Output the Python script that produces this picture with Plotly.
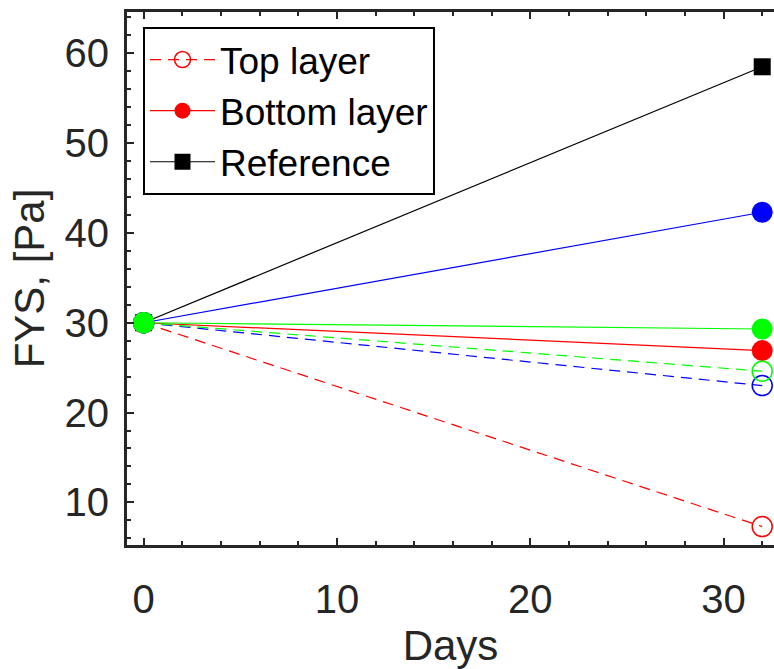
import plotly.graph_objects as go

# ---- data ----
days = [0, 32]
top_red = [30.0, 7.3]       # Top layer (legend)
bottom_red = [30.0, 26.9]   # Bottom layer (legend)
reference = [30.0, 58.5]    # Reference (legend)
top_blue = [30.0, 23.0]
bottom_blue = [30.0, 42.3]
top_green = [30.0, 24.6]
bottom_green = [30.0, 29.3]

x_ticks = [0, 10, 20, 30]
y_ticks = [10, 20, 30, 40, 50, 60]

AX = "#262626"
DASH = "11px,7px"

fig = go.Figure()

def add(y, name, color, dashed, symbol, size, show):
    if symbol == "circle-open":
        marker = dict(symbol=symbol, size=size, color=color, line=dict(color=color, width=1.5))
    else:
        marker = dict(symbol=symbol, size=size, color=color, line=dict(width=0))
    fig.add_trace(go.Scatter(
        x=days, y=y, name=name, mode="lines+markers",
        line=dict(color=color, width=1.2, dash=DASH if dashed else "solid"),
        marker=marker, showlegend=show, cliponaxis=False,
    ))

add(top_red, "Top layer", "#ff0000", True, "circle-open", 20, True)
add(bottom_red, "Bottom layer", "#ff0000", False, "circle", 21, True)
add(reference, "Reference", "#000000", False, "square", 17, True)
add(top_blue, "Top blue", "#0000ff", True, "circle-open", 20, False)
add(bottom_blue, "Bottom blue", "#0000ff", False, "circle", 21, False)
add(top_green, "Top green", "#00ff00", True, "circle-open", 20, False)
add(bottom_green, "Bottom green", "#00ff00", False, "circle", 21, False)

axis_common = dict(
    showgrid=False, zeroline=False,
    showline=True, linewidth=3, linecolor=AX,
    ticks="inside", ticklen=7, tickwidth=2, tickcolor=AX,
    tickfont=dict(size=40, color=AX, family="Arial"),
)

fig.update_layout(
    width=774, height=669,
    margin=dict(l=127, r=0, t=12, b=124),
    paper_bgcolor="white", plot_bgcolor="white",
    font=dict(family="Arial", color=AX),
    xaxis=dict(
        range=[-0.86, 32.61], tickvals=x_ticks, mirror="ticks",
        minor=dict(dtick=2, tick0=0, ticks="inside", ticklen=4, tickwidth=2, tickcolor=AX),
        title=dict(text="Days", font=dict(size=42, color=AX, family="Arial"), standoff=11),
        ticklabelstandoff=17,
        **axis_common,
    ),
    yaxis=dict(
        range=[5.25, 64.6], tickvals=y_ticks, mirror=False,
        minor=dict(dtick=2, tick0=0, ticks="inside", ticklen=4, tickwidth=2, tickcolor=AX),
        title=dict(text="FYS, [Pa]", font=dict(size=42, color=AX, family="Arial"), standoff=7),
        ticklabelstandoff=7,
        **axis_common,
    ),
    legend=dict(
        x=(143 - 127) / 647, y=1 - (27 - 12) / 533, xanchor="left", yanchor="top",
        bgcolor="white", bordercolor="#000000", borderwidth=2,
        font=dict(size=37, color="#000000", family="Arial"),
        tracegroupgap=0, itemwidth=65,
    ),
)

fig.write_html("out.html")
